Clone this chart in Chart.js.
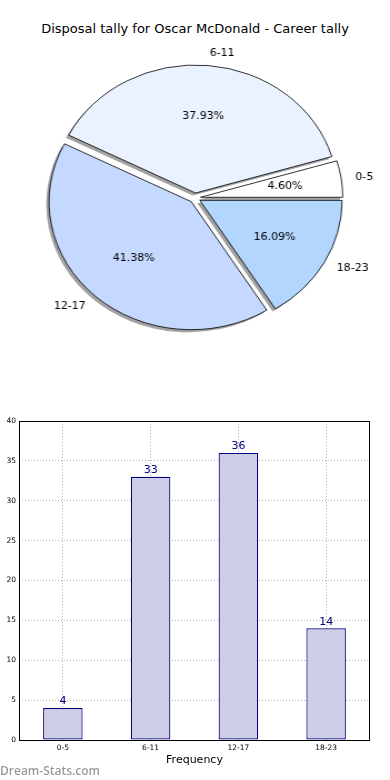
<!DOCTYPE html>
<html>
<head>
<meta charset="utf-8">
<script src="https://cdn.jsdelivr.net/npm/chart.js@4"></script>
<style>
  body { margin: 0; background: #fff; width: 390px; height: 780px; position: relative; overflow: hidden; font-family: "DejaVu Sans", sans-serif; }
  #title { position: absolute; top: 21px; left: 0; width: 390px; text-align: center; font-size: 13px; color: #000; }
  #pieChart { position: absolute; left: 0; top: 0; }
  #barChart { position: absolute; left: 0; top: 400px; }
  #mark { position: absolute; left: 0; top: 762px; font-family: "Open Sans", sans-serif; font-weight: 600; font-size: 12px; color: #9a9a9a; }
</style>
</head>
<body>
<div id="title">Disposal tally for Oscar McDonald - Career tally</div>
<canvas id="pieChart" width="351" height="390" style="width:390px;height:390px"></canvas>
<canvas id="barChart" width="390" height="380"></canvas>
<div id="mark">Dream-Stats.com</div>
<script>
const categories = ['0-5', '6-11', '12-17', '18-23'];
const counts = [4, 33, 36, 14];
const sliceColors = ['#ffffff', '#eaf1ff', '#c5d8ff', '#b3d6ff'];
const yTicks = [0, 5, 10, 15, 20, 25, 30, 35, 40];

// pie is stretched sideways by css (matplotlib ellipse), text is drawn unstretched
const sx = 390 / 351;
const explode = 5;
const total = counts.reduce((a, b) => a + b, 0);

function midOf(arc) {
  const p = arc.getProps(['startAngle', 'endAngle']);
  return (p.startAngle + p.endAngle) / 2;
}

// chart.js offset also grows the radius of small slices, so shift slices ourselves
const pieExplode = {
  id: 'pieExplode',
  afterDatasetUpdate(chart) {
    chart.getDatasetMeta(0).data.forEach(arc => {
      if (arc._wrapped) return;
      const base = Object.getPrototypeOf(arc).draw;
      arc.draw = function (ctx, area) {
        const m = midOf(this);
        ctx.save();
        ctx.translate(explode * Math.cos(m), explode * Math.sin(m));
        base.call(this, ctx, area);
        ctx.restore();
      };
      arc._wrapped = true;
    });
  },
  beforeDatasetsDraw(chart) {
    // shadows first, under every slice
    const ctx = chart.ctx;
    chart.getDatasetMeta(0).data.forEach(arc => {
      const o = arc.options;
      arc.options = Object.assign({}, o, { backgroundColor: 'rgba(70,70,70,0.5)', borderWidth: 0, borderColor: 'rgba(0,0,0,0)' });
      ctx.save();
      ctx.translate(-2.5, 2.6);
      arc.draw(ctx, chart.chartArea);
      ctx.restore();
      arc.options = o;
    });
  }
};

const pieLabels = {
  id: 'pieLabels',
  afterDraw(chart) {
    const ctx = chart.ctx;
    const meta = chart.getDatasetMeta(0);
    const ds = chart.data.datasets[0];
    ctx.save();
    ctx.font = '11px "DejaVu Sans"';
    ctx.fillStyle = '#000';
    ctx.textBaseline = 'middle';
    meta.data.forEach((arc, i) => {
      const p = arc.getProps(['x', 'y', 'outerRadius']);
      const mid = midOf(arc);
      const cx = p.x + explode * Math.cos(mid);
      const cy = p.y + explode * Math.sin(mid);
      const r = p.outerRadius;
      const put = (txt, f, align) => {
        ctx.save();
        ctx.translate(cx + f * r * Math.cos(mid), cy + f * r * Math.sin(mid));
        ctx.scale(1 / sx, 1);
        ctx.textAlign = align;
        ctx.fillText(txt, 0, 0);
        ctx.restore();
      };
      put((ds.data[i] / total * 100).toFixed(2) + '%', 0.6, 'center');
      put(chart.data.labels[i], 1.1, Math.cos(mid) > 0 ? 'left' : 'right');
    });
    ctx.restore();
  }
};

// matplotlib goes counter-clockwise from 3 o'clock, chart.js clockwise -> reverse
new Chart(document.getElementById('pieChart'), {
  type: 'pie',
  data: {
    labels: categories.slice().reverse(),
    datasets: [{
      data: counts.slice().reverse(),
      backgroundColor: sliceColors.slice().reverse(),
      borderColor: '#000',
      borderWidth: 0.8,
      offset: 0
    }]
  },
  options: {
    responsive: false,
    animation: false,
    devicePixelRatio: 1,
    rotation: 90,
    radius: 128,
    layout: { padding: { top: 6, left: 0, right: 0, bottom: 0 } },
    plugins: { legend: { display: false }, tooltip: { enabled: false } }
  },
  plugins: [pieExplode, pieLabels]
});

const frame = {
  id: 'frame',
  afterDraw(chart) {
    const { ctx, chartArea: a } = chart;
    ctx.save();
    ctx.strokeStyle = '#000';
    ctx.lineWidth = 1;
    ctx.strokeRect(a.left + 0.5, a.top + 0.5, a.right - a.left - 1, a.bottom - a.top);
    ctx.restore();
  }
};

const barValues = {
  id: 'barValues',
  afterDraw(chart) {
    const ctx = chart.ctx;
    const meta = chart.getDatasetMeta(0);
    ctx.save();
    ctx.font = '11px "DejaVu Sans"';
    ctx.fillStyle = '#000080';
    ctx.textAlign = 'center';
    ctx.textBaseline = 'bottom';
    meta.data.forEach((bar, i) => {
      ctx.fillText(String(chart.data.datasets[0].data[i]), bar.x, bar.y - 1);
    });
    ctx.restore();
  }
};

new Chart(document.getElementById('barChart'), {
  type: 'bar',
  data: {
    labels: categories,
    datasets: [{
      data: counts,
      backgroundColor: '#cdcde6',
      borderColor: '#000080',
      borderWidth: 1.2,
      borderSkipped: false,
      categoryPercentage: 1,
      barPercentage: 0.45
    }]
  },
  options: {
    responsive: false,
    animation: false,
    devicePixelRatio: 1,
    layout: { padding: { top: 21, right: 20, left: 0, bottom: 0 } },
    plugins: { legend: { display: false }, tooltip: { enabled: false } },
    scales: {
      x: {
        z: 1,
        offset: true,
        grid: { offset: false, drawTicks: false, color: '#b0b0b0', lineWidth: 1 },
        border: { display: false, dash: [1, 2] },
        ticks: { padding: 4, color: '#000', font: { family: 'DejaVu Sans', size: 7.5 } },
        title: { display: true, text: 'Frequency', color: '#000', font: { family: 'DejaVu Sans', size: 11 }, padding: { top: 2, bottom: 13 } },
        afterFit: (s) => { s.height = 40; }
      },
      y: {
        z: 1,
        min: 0,
        max: 40,
        afterBuildTicks: (s) => { s.ticks = yTicks.map(v => ({ value: v })); },
        grid: { drawTicks: false, color: '#b0b0b0', lineWidth: 1 },
        border: { display: false, dash: [1, 2] },
        ticks: { padding: 3, color: '#000', font: { family: 'DejaVu Sans', size: 7.5 } },
        afterFit: (s) => { s.width = 19; }
      }
    }
  },
  plugins: [barValues, frame]
});
</script>
</body>
</html>
